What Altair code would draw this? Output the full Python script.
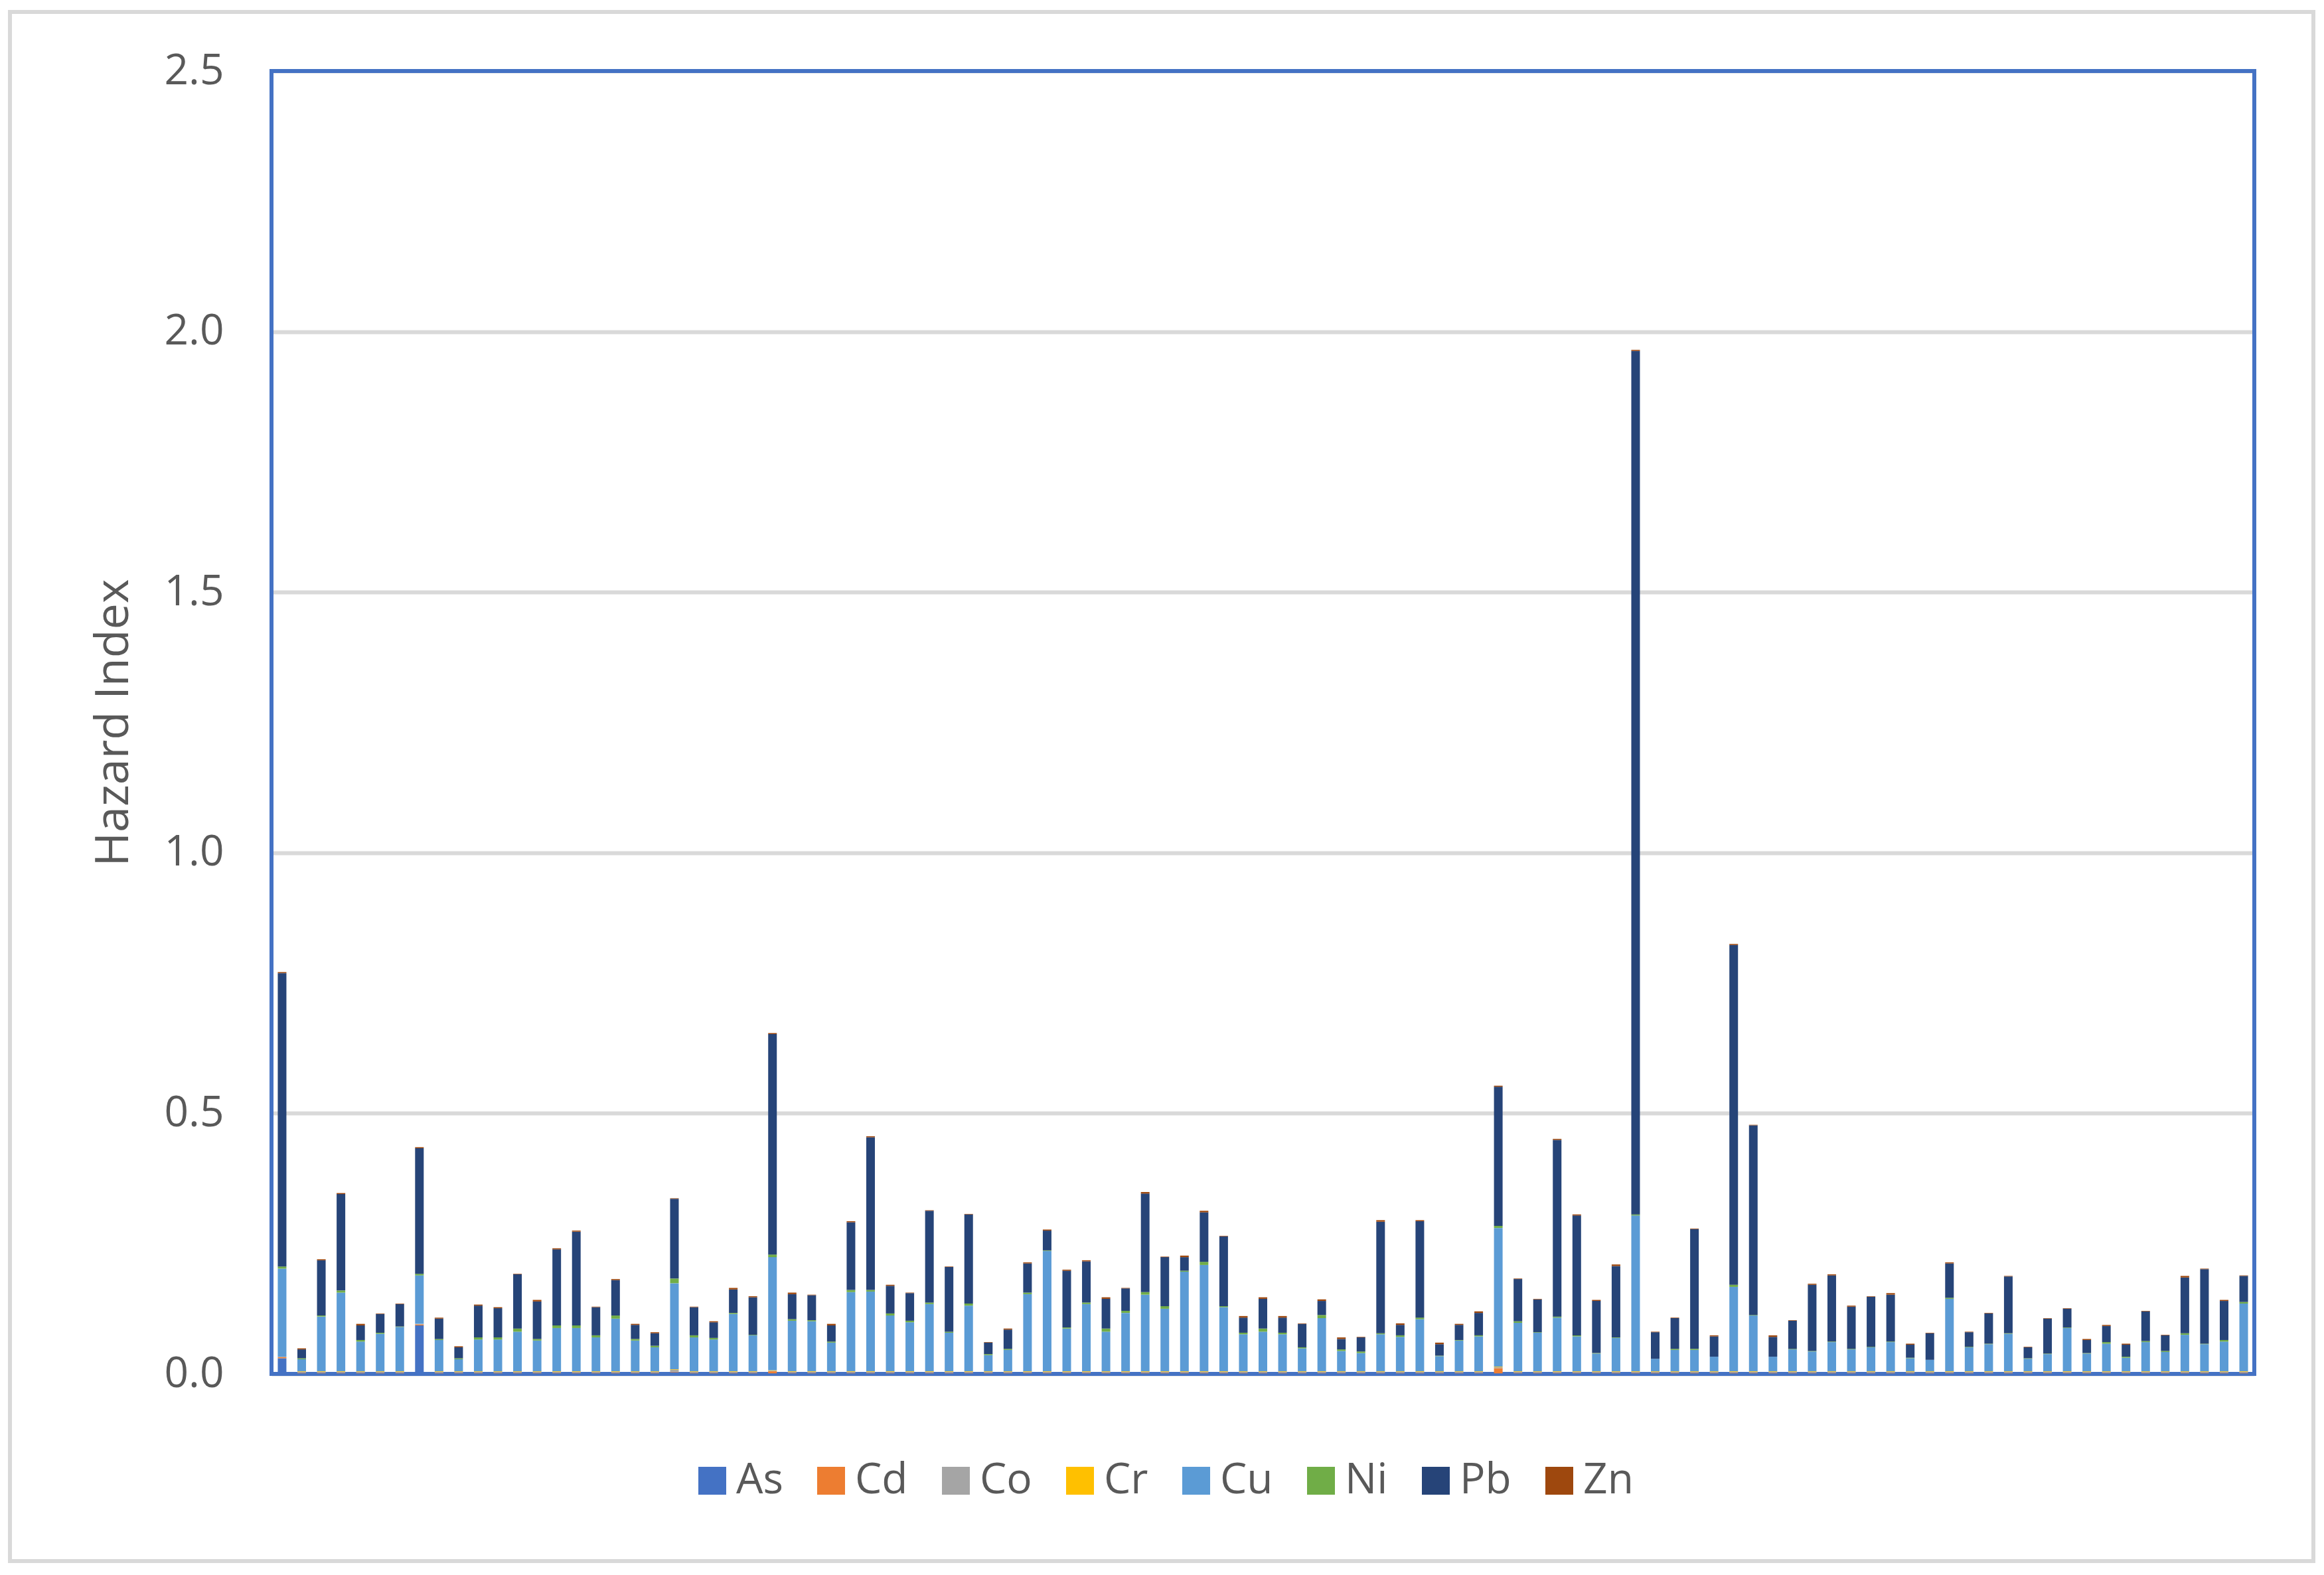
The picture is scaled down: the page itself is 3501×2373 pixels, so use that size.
import altair as alt
import pandas as pd

samples = list(range(1, 102))
metals = ["As", "Cd", "Co", "Cr", "Cu", "Ni", "Pb", "Zn"]
colors = ["#4472C4", "#ED7D31", "#A5A5A5", "#FFC000", "#5B9BD5", "#70AD47", "#264478", "#9E480E"]
y_ticks = [0.0, 0.5, 1.0, 1.5, 2.0, 2.5]

As = [0.030, 0.001, 0.001, 0.001, 0.001, 0.001, 0.001, 0.093, 0.001, 0.001,
      0.001, 0.001, 0.001, 0.001, 0.001, 0.001, 0.001, 0.001, 0.001, 0.001,
      0.003, 0.001, 0.001, 0.001, 0.001, 0.001, 0.001, 0.001, 0.001, 0.001,
      0.001, 0.001, 0.001, 0.001, 0.001, 0.001, 0.001, 0.001, 0.001, 0.001,
      0.001, 0.001, 0.001, 0.001, 0.001, 0.001, 0.001, 0.001, 0.001, 0.001,
      0.001, 0.001, 0.001, 0.001, 0.001, 0.001, 0.001, 0.001, 0.001, 0.001,
      0.001, 0.001, 0.001, 0.001, 0.001, 0.001, 0.001, 0.001, 0.001, 0.001,
      0.001, 0.001, 0.001, 0.001, 0.001, 0.001, 0.001, 0.001, 0.001, 0.001,
      0.001, 0.001, 0.001, 0.001, 0.001, 0.001, 0.001, 0.001, 0.001, 0.001,
      0.001, 0.001, 0.001, 0.001, 0.001, 0.001, 0.001, 0.001, 0.001, 0.001,
      0.001]
Cd = [0.002, 0.001, 0.001, 0.001, 0.001, 0.001, 0.001, 0.002, 0.001, 0.001,
      0.001, 0.001, 0.001, 0.001, 0.001, 0.001, 0.001, 0.001, 0.001, 0.001,
      0.001, 0.001, 0.001, 0.001, 0.001, 0.004, 0.001, 0.001, 0.001, 0.001,
      0.001, 0.001, 0.001, 0.001, 0.001, 0.001, 0.001, 0.001, 0.001, 0.001,
      0.001, 0.001, 0.001, 0.001, 0.001, 0.001, 0.001, 0.001, 0.001, 0.001,
      0.001, 0.001, 0.001, 0.001, 0.001, 0.001, 0.001, 0.001, 0.001, 0.001,
      0.001, 0.001, 0.010, 0.001, 0.001, 0.001, 0.001, 0.001, 0.001, 0.001,
      0.001, 0.001, 0.001, 0.001, 0.001, 0.001, 0.001, 0.001, 0.001, 0.001,
      0.001, 0.001, 0.001, 0.001, 0.001, 0.001, 0.001, 0.001, 0.001, 0.001,
      0.001, 0.001, 0.001, 0.001, 0.001, 0.001, 0.001, 0.001, 0.001, 0.001,
      0.001]
Co = [0.001, 0.002, 0.002, 0.002, 0.002, 0.002, 0.002, 0.001, 0.002, 0.002,
      0.002, 0.002, 0.002, 0.002, 0.002, 0.002, 0.002, 0.002, 0.002, 0.002,
      0.004, 0.002, 0.002, 0.002, 0.002, 0.001, 0.002, 0.002, 0.002, 0.002,
      0.002, 0.002, 0.002, 0.002, 0.002, 0.002, 0.002, 0.002, 0.002, 0.002,
      0.002, 0.002, 0.002, 0.002, 0.002, 0.002, 0.002, 0.002, 0.002, 0.002,
      0.002, 0.002, 0.002, 0.002, 0.002, 0.002, 0.002, 0.002, 0.002, 0.002,
      0.002, 0.002, 0.002, 0.002, 0.002, 0.002, 0.002, 0.002, 0.002, 0.002,
      0.002, 0.002, 0.002, 0.002, 0.002, 0.002, 0.002, 0.002, 0.002, 0.002,
      0.002, 0.002, 0.002, 0.002, 0.002, 0.002, 0.002, 0.002, 0.002, 0.002,
      0.002, 0.002, 0.002, 0.002, 0.002, 0.002, 0.002, 0.002, 0.002, 0.002,
      0.002]
Cr = [0.000, 0.001, 0.001, 0.001, 0.001, 0.001, 0.001, 0.000, 0.001, 0.001,
      0.001, 0.001, 0.001, 0.001, 0.001, 0.001, 0.001, 0.001, 0.001, 0.001,
      0.001, 0.001, 0.001, 0.001, 0.001, 0.001, 0.001, 0.001, 0.001, 0.001,
      0.001, 0.001, 0.001, 0.001, 0.001, 0.001, 0.001, 0.001, 0.001, 0.001,
      0.001, 0.001, 0.001, 0.001, 0.001, 0.001, 0.001, 0.001, 0.001, 0.001,
      0.001, 0.001, 0.001, 0.001, 0.001, 0.001, 0.001, 0.001, 0.001, 0.001,
      0.001, 0.001, 0.001, 0.001, 0.001, 0.001, 0.001, 0.001, 0.001, 0.001,
      0.001, 0.001, 0.001, 0.001, 0.001, 0.001, 0.001, 0.001, 0.001, 0.001,
      0.001, 0.001, 0.001, 0.001, 0.001, 0.001, 0.001, 0.001, 0.001, 0.001,
      0.001, 0.001, 0.001, 0.001, 0.001, 0.001, 0.001, 0.001, 0.001, 0.001,
      0.001]
Cu = [0.169, 0.023, 0.105, 0.151, 0.057, 0.072, 0.085, 0.093, 0.060, 0.023,
      0.061, 0.061, 0.076, 0.059, 0.083, 0.083, 0.065, 0.101, 0.059, 0.046,
      0.165, 0.065, 0.061, 0.110, 0.069, 0.217, 0.097, 0.096, 0.055, 0.152,
      0.153, 0.107, 0.094, 0.129, 0.074, 0.126, 0.031, 0.041, 0.148, 0.231,
      0.082, 0.129, 0.076, 0.112, 0.147, 0.120, 0.191, 0.204, 0.123, 0.071,
      0.076, 0.071, 0.044, 0.102, 0.039, 0.035, 0.071, 0.066, 0.100, 0.029,
      0.059, 0.067, 0.266, 0.093, 0.074, 0.103, 0.067, 0.034, 0.064, 0.299,
      0.024, 0.041, 0.041, 0.028, 0.162, 0.107, 0.028, 0.042, 0.038, 0.056,
      0.042, 0.046, 0.056, 0.025, 0.022, 0.139, 0.046, 0.052, 0.072, 0.024,
      0.033, 0.083, 0.034, 0.053, 0.026, 0.056, 0.037, 0.070, 0.052, 0.057,
      0.130]
Ni = [0.004, 0.002, 0.002, 0.004, 0.003, 0.002, 0.001, 0.003, 0.002, 0.002,
      0.004, 0.004, 0.006, 0.003, 0.005, 0.005, 0.004, 0.006, 0.003, 0.003,
      0.009, 0.004, 0.003, 0.002, 0.001, 0.005, 0.003, 0.002, 0.002, 0.004,
      0.003, 0.004, 0.003, 0.003, 0.002, 0.004, 0.002, 0.002, 0.003, 0.001,
      0.002, 0.003, 0.006, 0.004, 0.005, 0.005, 0.002, 0.006, 0.002, 0.003,
      0.006, 0.003, 0.002, 0.006, 0.003, 0.003, 0.002, 0.003, 0.003, 0.001,
      0.001, 0.002, 0.004, 0.003, 0.001, 0.002, 0.002, 0.001, 0.001, 0.002,
      0.000, 0.002, 0.002, 0.000, 0.004, 0.001, 0.000, 0.001, 0.001, 0.001,
      0.001, 0.001, 0.001, 0.001, 0.000, 0.002, 0.001, 0.001, 0.001, 0.001,
      0.001, 0.001, 0.001, 0.003, 0.002, 0.002, 0.002, 0.003, 0.001, 0.003,
      0.003]
Pb = [0.563, 0.017, 0.106, 0.185, 0.028, 0.036, 0.043, 0.241, 0.039, 0.021,
      0.061, 0.056, 0.104, 0.072, 0.146, 0.180, 0.054, 0.068, 0.027, 0.024,
      0.153, 0.054, 0.030, 0.045, 0.072, 0.423, 0.048, 0.048, 0.031, 0.130,
      0.293, 0.053, 0.053, 0.176, 0.124, 0.171, 0.022, 0.037, 0.056, 0.038,
      0.109, 0.079, 0.057, 0.043, 0.189, 0.094, 0.026, 0.095, 0.134, 0.029,
      0.057, 0.029, 0.045, 0.027, 0.020, 0.027, 0.214, 0.020, 0.185, 0.022,
      0.029, 0.043, 0.267, 0.081, 0.063, 0.339, 0.230, 0.100, 0.137, 1.657,
      0.051, 0.059, 0.230, 0.039, 0.652, 0.364, 0.038, 0.054, 0.127, 0.127,
      0.081, 0.096, 0.090, 0.025, 0.051, 0.066, 0.028, 0.058, 0.109, 0.021,
      0.067, 0.036, 0.025, 0.031, 0.023, 0.057, 0.030, 0.107, 0.143, 0.075,
      0.050]
Zn = [0.002, 0.002, 0.002, 0.002, 0.003, 0.001, 0.001, 0.002, 0.002, 0.002,
      0.002, 0.002, 0.001, 0.003, 0.002, 0.002, 0.001, 0.002, 0.002, 0.002,
      0.001, 0.001, 0.002, 0.003, 0.002, 0.002, 0.003, 0.001, 0.003, 0.002,
      0.002, 0.002, 0.001, 0.001, 0.001, 0.001, 0.001, 0.002, 0.002, 0.002,
      0.002, 0.002, 0.003, 0.001, 0.003, 0.001, 0.003, 0.003, 0.001, 0.003,
      0.003, 0.003, 0.001, 0.003, 0.003, 0.001, 0.003, 0.003, 0.002, 0.003,
      0.002, 0.003, 0.002, 0.001, 0.001, 0.002, 0.002, 0.002, 0.003, 0.002,
      0.001, 0.001, 0.001, 0.002, 0.002, 0.001, 0.003, 0.001, 0.002, 0.002,
      0.002, 0.001, 0.003, 0.002, 0.001, 0.002, 0.001, 0.001, 0.001, 0.001,
      0.001, 0.001, 0.002, 0.002, 0.002, 0.001, 0.001, 0.003, 0.001, 0.002,
      0.001]

series = [As, Cd, Co, Cr, Cu, Ni, Pb, Zn]
rows = []
for k, (m, vals) in enumerate(zip(metals, series)):
    for s, v in zip(samples, vals):
        rows.append({"sample": s, "metal": m, "order": k, "value": v})
df = pd.DataFrame(rows)

W, H = 2987, 1963
FONT = "Open Sans"
GREY = "#595959"

bars = alt.Chart(df).mark_bar().encode(
    x=alt.X("sample:O", axis=None,
            scale=alt.Scale(paddingInner=0.56, paddingOuter=0.32)),
    y=alt.Y("value:Q", stack="zero",
            scale=alt.Scale(domain=[0, 2.5], nice=False),
            axis=alt.Axis(values=y_ticks, format=".1f", title="Hazard Index",
                          grid=True, gridColor="#D9D9D9", gridWidth=6,
                          domain=False, ticks=False,
                          labelFont=FONT, labelFontSize=64, labelColor=GREY,
                          labelPadding=72,
                          titleFont=FONT, titleFontSize=70, titleColor=GREY,
                          titleFontWeight="normal", titleX=-238, titleY=H / 2,
                          titleAngle=270, titleAlign="center",
                          titleBaseline="middle")),
    color=alt.Color("metal:N",
                    scale=alt.Scale(domain=metals, range=colors),
                    legend=alt.Legend(title=None, orient="none",
                                      direction="horizontal",
                                      legendX=632, legendY=2092,
                                      symbolType="square", symbolSize=1764,
                                      symbolStrokeWidth=0, symbolOpacity=1,
                                      labelFont=FONT, labelFontSize=64,
                                      labelColor=GREY, labelOffset=4,
                                      columnPadding=40, padding=0)),
    order=alt.Order("order:Q", sort="ascending"),
)

frame = alt.Chart(pd.DataFrame({"a": [0]})).mark_rect(
    fillOpacity=0, stroke="#D9D9D9", strokeWidth=6
).encode(
    x=alt.value(-394), x2=alt.value(3076),
    y=alt.value(-89), y2=alt.value(2245),
)

border = alt.Chart(pd.DataFrame({"a": [0]})).mark_rect(
    fillOpacity=0, stroke="#4472C4", strokeWidth=6
).encode(
    x=alt.value(0), x2=alt.value(W),
    y=alt.value(0), y2=alt.value(H),
)

chart = alt.layer(frame, border, bars).properties(
    width=W, height=H,
    padding={"left": 401, "top": 99, "right": 97, "bottom": 295},
    autosize=alt.AutoSizeParams(type="none"),
    background="white",
).configure_view(strokeWidth=0)

chart.save("out.html", embed_options={"renderer": "svg", "actions": False})
